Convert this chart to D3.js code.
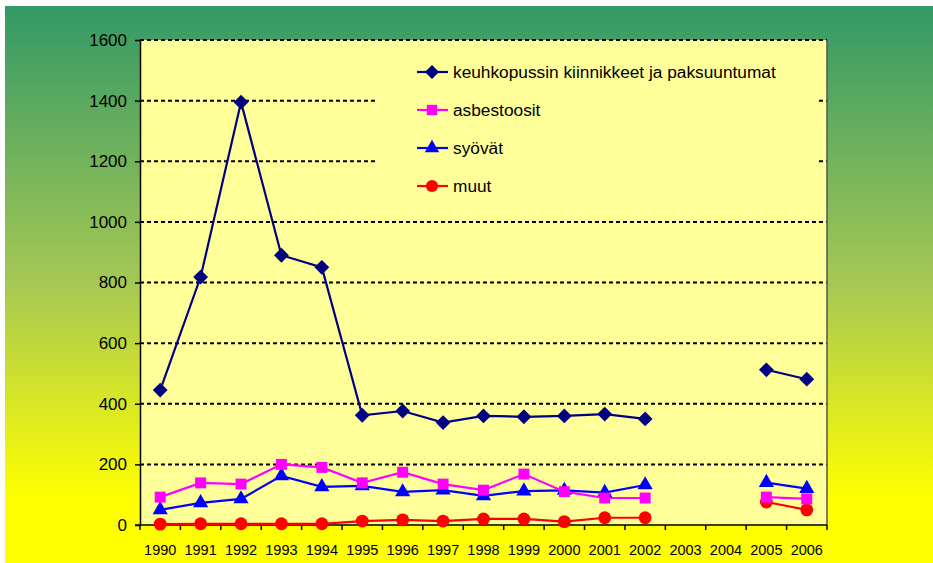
<!DOCTYPE html>
<html>
<head>
<meta charset="utf-8">
<script src="https://cdn.jsdelivr.net/npm/d3@7"></script>
<style>
  body { margin: 0; background: #fff; }
  svg { display: block; font-family: "Liberation Sans", Arial, sans-serif; }
</style>
</head>
<body>
<svg width="933" height="563"></svg>
<script>
const years = ['1990','1991','1992','1993','1994','1995','1996','1997','1998','1999','2000','2001','2002','2003','2004','2005','2006'];
const yTicks = [0, 200, 400, 600, 800, 1000, 1200, 1400, 1600];

// null = no value (gap in the line)
const keuhko = [445, 818, 1395, 890, 850, 362, 376, 338, 360, 357, 360, 366, 350, null, null, 512, 481];
const asbest = [92, 139, 135, 200, 190, 139, 174, 135, 115, 168, 110, 89, 89, null, null, 92, 86];
const syovat = [50, 73, 86, 162, 126, 129, 109, 115, 96, 112, 114, 107, 132, null, null, 140, 120];
const muut = [3, 4, 4, 4, 4, 13, 17, 13, 20, 20, 11, 24, 24, null, null, 76, 50];

const seriesNames = ['keuhkopussin kiinnikkeet ja paksuuntumat', 'asbestoosit', 'syövät', 'muut'];
const seriesColors = ['#000080', '#ff00ff', '#0000ff', '#ff0000'];
const seriesSymbols = [d3.symbolSquare, d3.symbolSquare, d3.symbolTriangle, d3.symbolCircle];
const seriesRotate = [45, 0, 0, 0];
const seriesValues = [keuhko, asbest, syovat, muut];

const svg = d3.select('svg');

// background gradient
const defs = svg.append('defs');
const grad = defs.append('linearGradient').attr('id', 'bg').attr('x1', 0).attr('y1', 0).attr('x2', 0).attr('y2', 1);
grad.append('stop').attr('offset', '0%').attr('stop-color', '#339966');
grad.append('stop').attr('offset', '50%').attr('stop-color', '#a6c853');
grad.append('stop').attr('offset', '88%').attr('stop-color', '#ffff00');
grad.append('stop').attr('offset', '100%').attr('stop-color', '#ffff00');
svg.append('rect').attr('x', 5).attr('y', 6).attr('width', 928).attr('height', 557).attr('fill', 'url(#bg)');

const plotL = 140, plotR = 827, plotT = 40, plotB = 525;

const x = d3.scaleBand().domain(years).range([plotL, plotR]);
const y = d3.scaleLinear().domain([0, 1600]).range([plotB, plotT]);

// plot area
svg.append('rect').attr('x', plotL).attr('y', plotT).attr('width', plotR - plotL).attr('height', plotB - plotT)
  .attr('fill', '#ffff99');

// gridlines
svg.append('g').selectAll('line').data(yTicks.filter(d => d > 0)).enter().append('line')
  .attr('x1', plotL).attr('x2', plotR)
  .attr('y1', d => y(d)).attr('y2', d => y(d))
  .attr('stroke', '#000').attr('stroke-width', 2).attr('stroke-dasharray', '4,3');

// right border
svg.append('line').attr('x1', plotR).attr('x2', plotR).attr('y1', plotT).attr('y2', plotB)
  .attr('stroke', '#555').attr('stroke-width', 1.5);

// legend box (covers gridlines)
const lg = svg.append('g');
lg.append('rect').attr('x', 378).attr('y', 52).attr('width', 440).attr('height', 150).attr('fill', '#ffff99');

// axes
const yAxis = svg.append('g').attr('transform', 'translate(' + plotL + ',0)')
  .call(d3.axisLeft(y).tickValues(yTicks).tickFormat(d3.format('d')).tickSize(5).tickPadding(8).tickSizeOuter(0));
yAxis.select('.domain').attr('stroke', '#000').attr('stroke-width', 1.5);
yAxis.selectAll('.tick line').attr('stroke', '#000').attr('stroke-width', 1.5);
yAxis.selectAll('text').attr('font-size', 17).attr('fill', '#000').attr('font-family', '"Liberation Sans", Arial, sans-serif');

const xAxisG = svg.append('g').attr('transform', 'translate(0,' + plotB + ')');
xAxisG.append('line').attr('x1', plotL - 5).attr('x2', plotR).attr('stroke', '#000').attr('stroke-width', 1.5);
xAxisG.selectAll('.tk').data(years.concat(['end'])).enter().append('line')
  .attr('x1', (d, i) => i < years.length ? x(d) : plotR)
  .attr('x2', (d, i) => i < years.length ? x(d) : plotR)
  .attr('y1', 0).attr('y2', 5).attr('stroke', '#000').attr('stroke-width', 1.5);
xAxisG.selectAll('.lbl').data(years).enter().append('text')
  .attr('x', d => x(d) + x.bandwidth() / 2).attr('y', 30)
  .attr('text-anchor', 'middle').attr('font-size', 14.5).attr('fill', '#000')
  .text(d => d);

// series
const line = d3.line()
  .defined(d => d.v !== null)
  .x(d => x(d.year) + x.bandwidth() / 2)
  .y(d => y(d.v));

const drawOrder = [3, 2, 1, 0];
const sizes = [110, 120, 100, 130];
drawOrder.forEach(si => {
  const pts = years.map((yr, i) => ({ year: yr, v: seriesValues[si][i] }));
  svg.append('path').datum(pts).attr('d', line)
    .attr('fill', 'none').attr('stroke', seriesColors[si]).attr('stroke-width', 2.2);
  svg.append('g').selectAll('path').data(pts.filter(d => d.v !== null)).enter().append('path')
    .attr('transform', d => 'translate(' + (x(d.year) + x.bandwidth() / 2) + ',' + y(d.v) + ') rotate(' + seriesRotate[si] + ')')
    .attr('d', d3.symbol().type(seriesSymbols[si]).size(sizes[si]))
    .attr('fill', seriesColors[si]);
});

// legend items
seriesNames.forEach((name, i) => {
  const ly = 72 + i * 38;
  lg.append('line').attr('x1', 417).attr('x2', 448).attr('y1', ly).attr('y2', ly)
    .attr('stroke', seriesColors[i]).attr('stroke-width', 2.2);
  lg.append('path').attr('transform', 'translate(432,' + ly + ') rotate(' + seriesRotate[i] + ')')
    .attr('d', d3.symbol().type(seriesSymbols[i]).size(sizes[i] * 0.9)).attr('fill', seriesColors[i]);
  lg.append('text').attr('x', 453).attr('y', ly + 6).attr('font-size', 17.3).attr('fill', '#000').text(name);
});
</script>
</body>
</html>
